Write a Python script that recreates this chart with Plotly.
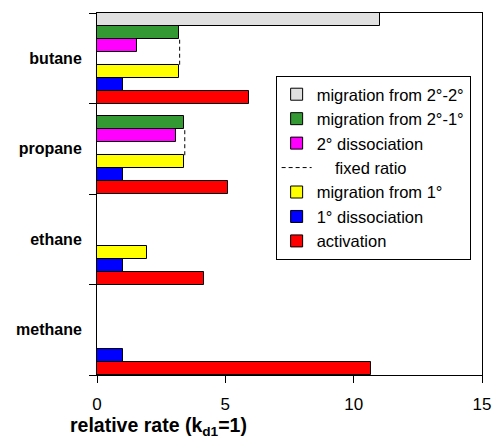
import plotly.graph_objects as go

categories = ["methane", "ethane", "propane", "butane"]
activation = [10.67, 4.17, 5.12, 5.94]
dissoc_1 = [1.0, 1.0, 1.0, 1.0]
migration_1 = [None, 1.93, 3.40, 3.19]
dissoc_2 = [None, None, 3.09, 1.57]
migration_21 = [None, None, 3.40, 3.19]
migration_22 = [None, None, None, 11.02]
fixed_ratio = [None, None, 3.42, 3.22]
x_ticks = [0, 5, 10, 15]

FONT = "Liberation Sans, Arial, sans-serif"

series = [
    ("activation", activation, "#ff0000", 7),
    ("1° dissociation", dissoc_1, "#0000ff", 6),
    ("migration from 1°", migration_1, "#ffff00", 5),
    ("_slot", [0, 0, 0, 0], "rgba(0,0,0,0)", 99),
    ("2° dissociation", dissoc_2, "#ff00ff", 3),
    ("migration from 2°-1°", migration_21, "#339933", 2),
    ("migration from 2°-2°", migration_22, "#e0e0e0", 1),
]

fig = go.Figure()
nslots = len(series)
for name, vals, col, rank in series:
    hidden = name == "_slot"
    fig.add_trace(go.Bar(
        y=categories, x=vals, orientation="h", name=name,
        marker=dict(color=col, line=dict(color="black", width=0 if hidden else 1)),
        showlegend=not hidden, legendrank=rank,
    ))

# dashed "fixed ratio" line spanning from top of the migration-from-1° slot to bottom of the 2°-1° slot
fx, fy = [], []
for i, v in enumerate(fixed_ratio):
    if v is None:
        continue
    lo = i - 0.5 + 3 / nslots
    hi = i - 0.5 + 5 / nslots
    fx += [v, v, None]
    fy += [lo, hi, None]
fig.add_trace(go.Scatter(
    x=fx, y=fy, yaxis="y2", mode="lines", name="\u00a0\u00a0\u00a0\u00a0fixed ratio",
    line=dict(color="black", width=1, dash="4px,3px"), legendrank=4,
))

fig.update_layout(
    width=493, height=443,
    margin=dict(l=97, r=11, t=13, b=68),
    paper_bgcolor="white", plot_bgcolor="white",
    barmode="group", bargap=0, bargroupgap=0,
    font=dict(family=FONT, size=15, color="black"),
    xaxis=dict(range=[0, 15], tickvals=x_ticks, ticks="outside", ticklen=7,
               tickcolor="black", showline=True, linecolor="black", linewidth=1,
               mirror=True, showgrid=False, zeroline=False, automargin=False,
               ticklabelstandoff=7, tickfont=dict(size=17)),
    yaxis=dict(type="category", categoryorder="array", categoryarray=categories,
               range=[-0.5, 3.5], tickson="boundaries", ticks="outside", ticklen=7,
               tickcolor="black", showline=True, linecolor="black", linewidth=1,
               mirror=True, showgrid=False, automargin=False, ticklabelstandoff=11,
               tickfont=dict(size=16, family="Liberation Sans, Arial", weight="bold")),
    yaxis2=dict(overlaying="y", range=[-0.5, 3.5], visible=False),
    legend=dict(x=0.464, y=0.826, xanchor="left", yanchor="top",
                bgcolor="white", bordercolor="black", borderwidth=1,
                font=dict(size=16.5), traceorder="normal", itemwidth=30),
    annotations=[dict(
        text="<b>relative rate (k<sub>d1</sub>=1)</b>", xref="paper", yref="paper",
        x=0.161, y=-0.142, xanchor="center", yanchor="middle", showarrow=False,
        font=dict(size=19.5),
    )],
)

fig.write_html("out.html", config={"displayModeBar": False},
               post_script="document.body.style.margin='0';")
